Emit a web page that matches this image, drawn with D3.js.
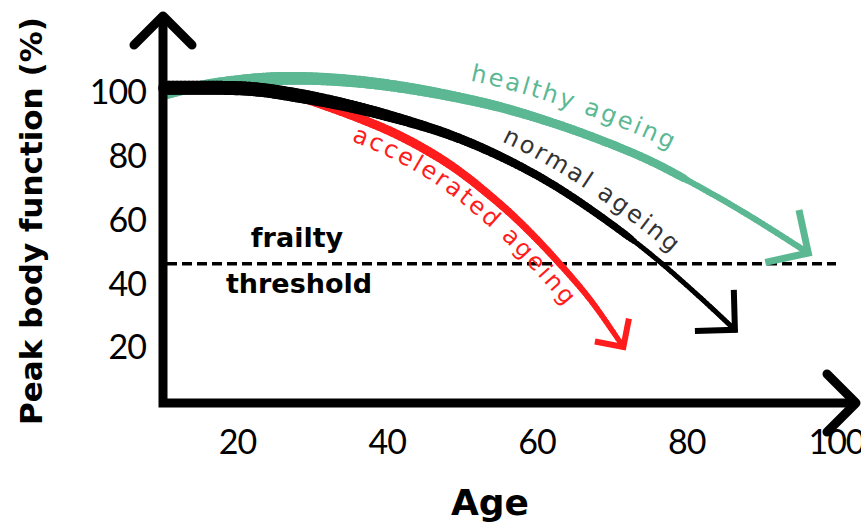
<!DOCTYPE html>
<html>
<head>
<meta charset="utf-8">
<script src="https://cdn.jsdelivr.net/npm/d3@7"></script>
<style>
  body { margin: 0; background: #fff; }
  svg { display: block; }
</style>
</head>
<body>
<svg id="chart" width="861" height="522"></svg>
<script>
// values (age in years, peak body function in %)
const xTicks = [20, 40, 60, 80, 100];
const yTicks = [20, 40, 60, 80, 100];
const frailtyThreshold = 46.4;

const healthyAge = [10.4, 15.1, 21.7, 28.4, 35.1, 41.8, 48.5, 55.1, 61.8, 68.5, 75.2, 81.8, 88.5, 96.3];
const healthyVal = [99.4, 102.2, 104.1, 104.6, 103.8, 101.9, 99.1, 95.6, 90.9, 85.3, 78.7, 70.5, 61.4, 49.8];

const normalAge = [10.4, 21.7, 28.4, 35.1, 41.8, 48.5, 55.1, 61.8, 68.5, 75.2, 81.8, 86.5];
const normalVal = [101.6, 101.3, 99.1, 95.9, 91.8, 86.8, 80.2, 71.8, 61.4, 49.5, 36.0, 25.7];

const acceleratedAge = [28.4, 35.1, 41.8, 48.5, 55.1, 59.1, 63.1, 67.2, 71.6];
const acceleratedVal = [98.8, 93.2, 86.5, 77.4, 65.2, 56.4, 46.4, 35.1, 20.3];

const GREEN = "#5bb893";
const RED = "#ff1c1c";

const svg = d3.select("#chart");

const x = d3.scaleLinear().domain([20, 100]).range([237, 836]);
const y = d3.scaleLinear().domain([20, 100]).range([348, 93]);

// axis corner sits a little below/left of the data
const axisX = 163;
const axisY = 403;

// series styling; drawn green first, then red, black on top
const series = [
    { label: "healthy ageing", ages: healthyAge, values: healthyVal, color: GREEN, text: GREEN,
      taper: [[10, 9], [25, 13], [45, 11], [62, 9], [79, 8], [80, 6], [100, 6]],
      head: 44, labelStart: 50.4, labelOffset: 19 },
    { label: "accelerated ageing", ages: acceleratedAge, values: acceleratedVal, color: RED, text: RED,
      taper: [[28, 9], [45, 9], [60, 7], [72, 5]],
      head: 29, labelStart: 36.2, labelOffset: -24 },
    { label: "normal ageing", ages: normalAge, values: normalVal, color: "#000", text: "#333",
      taper: [[10, 14], [28, 14], [45, 10], [60, 8], [72, 7], [73, 5], [90, 5]],
      head: 40, labelStart: 54.5, labelOffset: 14 }
];

const defs = svg.append("defs");

// threshold line
svg.append("line")
    .attr("x1", axisX + 4)
    .attr("x2", x(100))
    .attr("y1", y(frailtyThreshold))
    .attr("y2", y(frailtyThreshold))
    .attr("stroke", "#000")
    .attr("stroke-width", 3.5)
    .attr("stroke-dasharray", "10,5");

const curveGen = d3.line().curve(d3.curveCatmullRom.alpha(0.5));
const polyGen = d3.line();

series.forEach((s, si) => {
    const pts = s.ages.map((a, i) => [x(a), y(s.values[i])]);
    const guide = svg.append("path")
        .attr("d", curveGen(pts))
        .attr("fill", "none")
        .attr("stroke", "none");
    const node = guide.node();
    const len = node.getTotalLength();
    const samples = d3.range(0, len, 2).concat([len]).map(l => {
        const p = node.getPointAtLength(l);
        return [p.x, p.y];
    });
    guide.remove();

    // stroke tapers along the curve
    const width = d3.scaleLinear()
        .domain(s.taper.map(d => d[0]))
        .range(s.taper.map(d => d[1]))
        .clamp(true);

    const g = svg.append("g")
        .attr("fill", "none")
        .attr("stroke", s.color)
        .attr("stroke-linecap", "round")
        .attr("stroke-linejoin", "round");
    for (let i = 0; i < samples.length - 1; i += 2) {
        const seg = samples.slice(i, i + 3);
        g.append("path")
            .attr("d", polyGen(seg))
            .attr("stroke-width", width(x.invert(seg[0][0])));
    }

    // open arrow head at the end of the curve
    const tip = samples[samples.length - 1];
    const back = samples[Math.max(0, samples.length - 8)];
    const ang = Math.atan2(tip[1] - back[1], tip[0] - back[0]) + Math.PI;
    const arm = d => [tip[0] + s.head * Math.cos(ang + d), tip[1] + s.head * Math.sin(ang + d)];
    g.append("path")
        .attr("d", polyGen([arm(-Math.PI / 4), tip, arm(Math.PI / 4)]))
        .attr("stroke-width", width(x.invert(tip[0])) + 1)
        .attr("stroke-linecap", "butt")
        .attr("stroke-linejoin", "miter");

    // label path, offset sideways from the curve
    const offPts = [];
    samples.forEach((p, i) => {
        if (x.invert(p[0]) < s.labelStart) return;
        const a = samples[Math.max(0, i - 3)];
        const b = samples[Math.min(samples.length - 1, i + 3)];
        const dx = b[0] - a[0], dy = b[1] - a[1];
        const n = Math.hypot(dx, dy) || 1;
        offPts.push([p[0] + s.labelOffset * dy / n, p[1] - s.labelOffset * dx / n]);
    });
    defs.append("path").attr("id", "lab" + si).attr("d", polyGen(offPts));
    svg.append("text")
        .attr("font-family", "DejaVu Sans, sans-serif")
        .attr("font-size", 24)
        .attr("letter-spacing", 2.5)
        .attr("fill", s.text)
        .append("textPath")
        .attr("href", "#lab" + si)
        .text(s.label);
});

// threshold labels
svg.append("text")
    .attr("x", 297).attr("y", y(frailtyThreshold) - 17)
    .attr("text-anchor", "middle")
    .attr("font-family", "DejaVu Sans, sans-serif")
    .attr("font-weight", "bold")
    .attr("font-size", 27)
    .text("frailty");
svg.append("text")
    .attr("x", 299).attr("y", y(frailtyThreshold) + 29)
    .attr("text-anchor", "middle")
    .attr("font-family", "DejaVu Sans, sans-serif")
    .attr("font-weight", "bold")
    .attr("font-size", 27)
    .text("threshold");

// axes: thick arrows
const axes = svg.append("g")
    .attr("fill", "none")
    .attr("stroke", "#000")
    .attr("stroke-width", 9)
    .attr("stroke-linecap", "round")
    .attr("stroke-linejoin", "round");
axes.append("path").attr("d", polyGen([[axisX, 16], [axisX, axisY], [856, axisY]]))
    .attr("stroke-linejoin", "miter").attr("stroke-linecap", "butt");
axes.append("path").attr("d", polyGen([[axisX - 29, 45], [axisX, 16], [axisX + 29, 45]]));
axes.append("path").attr("d", polyGen([[827, axisY - 29], [856, axisY], [827, axisY + 29]]));

// tick labels
const xAxis = svg.append("g")
    .attr("transform", `translate(0,${axisY})`)
    .call(d3.axisBottom(x).tickValues(xTicks).tickSize(0).tickPadding(27));
const yAxis = svg.append("g")
    .attr("transform", `translate(${axisX},0)`)
    .call(d3.axisLeft(y).tickValues(yTicks).tickSize(0).tickPadding(17));
[xAxis, yAxis].forEach(ax => {
    ax.select(".domain").remove();
    ax.selectAll("text")
        .attr("font-family", "Lato, sans-serif")
        .attr("font-size", 34)
        .attr("letter-spacing", -1)
        .attr("fill", "#000");
});

// axis titles
svg.append("text")
    .attr("x", 490).attr("y", 515)
    .attr("text-anchor", "middle")
    .attr("font-family", "DejaVu Sans, sans-serif")
    .attr("font-weight", "bold")
    .attr("font-size", 36)
    .text("Age");
svg.append("text")
    .attr("transform", "translate(42,221) rotate(-90)")
    .attr("text-anchor", "middle")
    .attr("font-family", "DejaVu Sans, sans-serif")
    .attr("font-weight", "bold")
    .attr("font-size", 31)
    .text("Peak body function (%)");
</script>
</body>
</html>
